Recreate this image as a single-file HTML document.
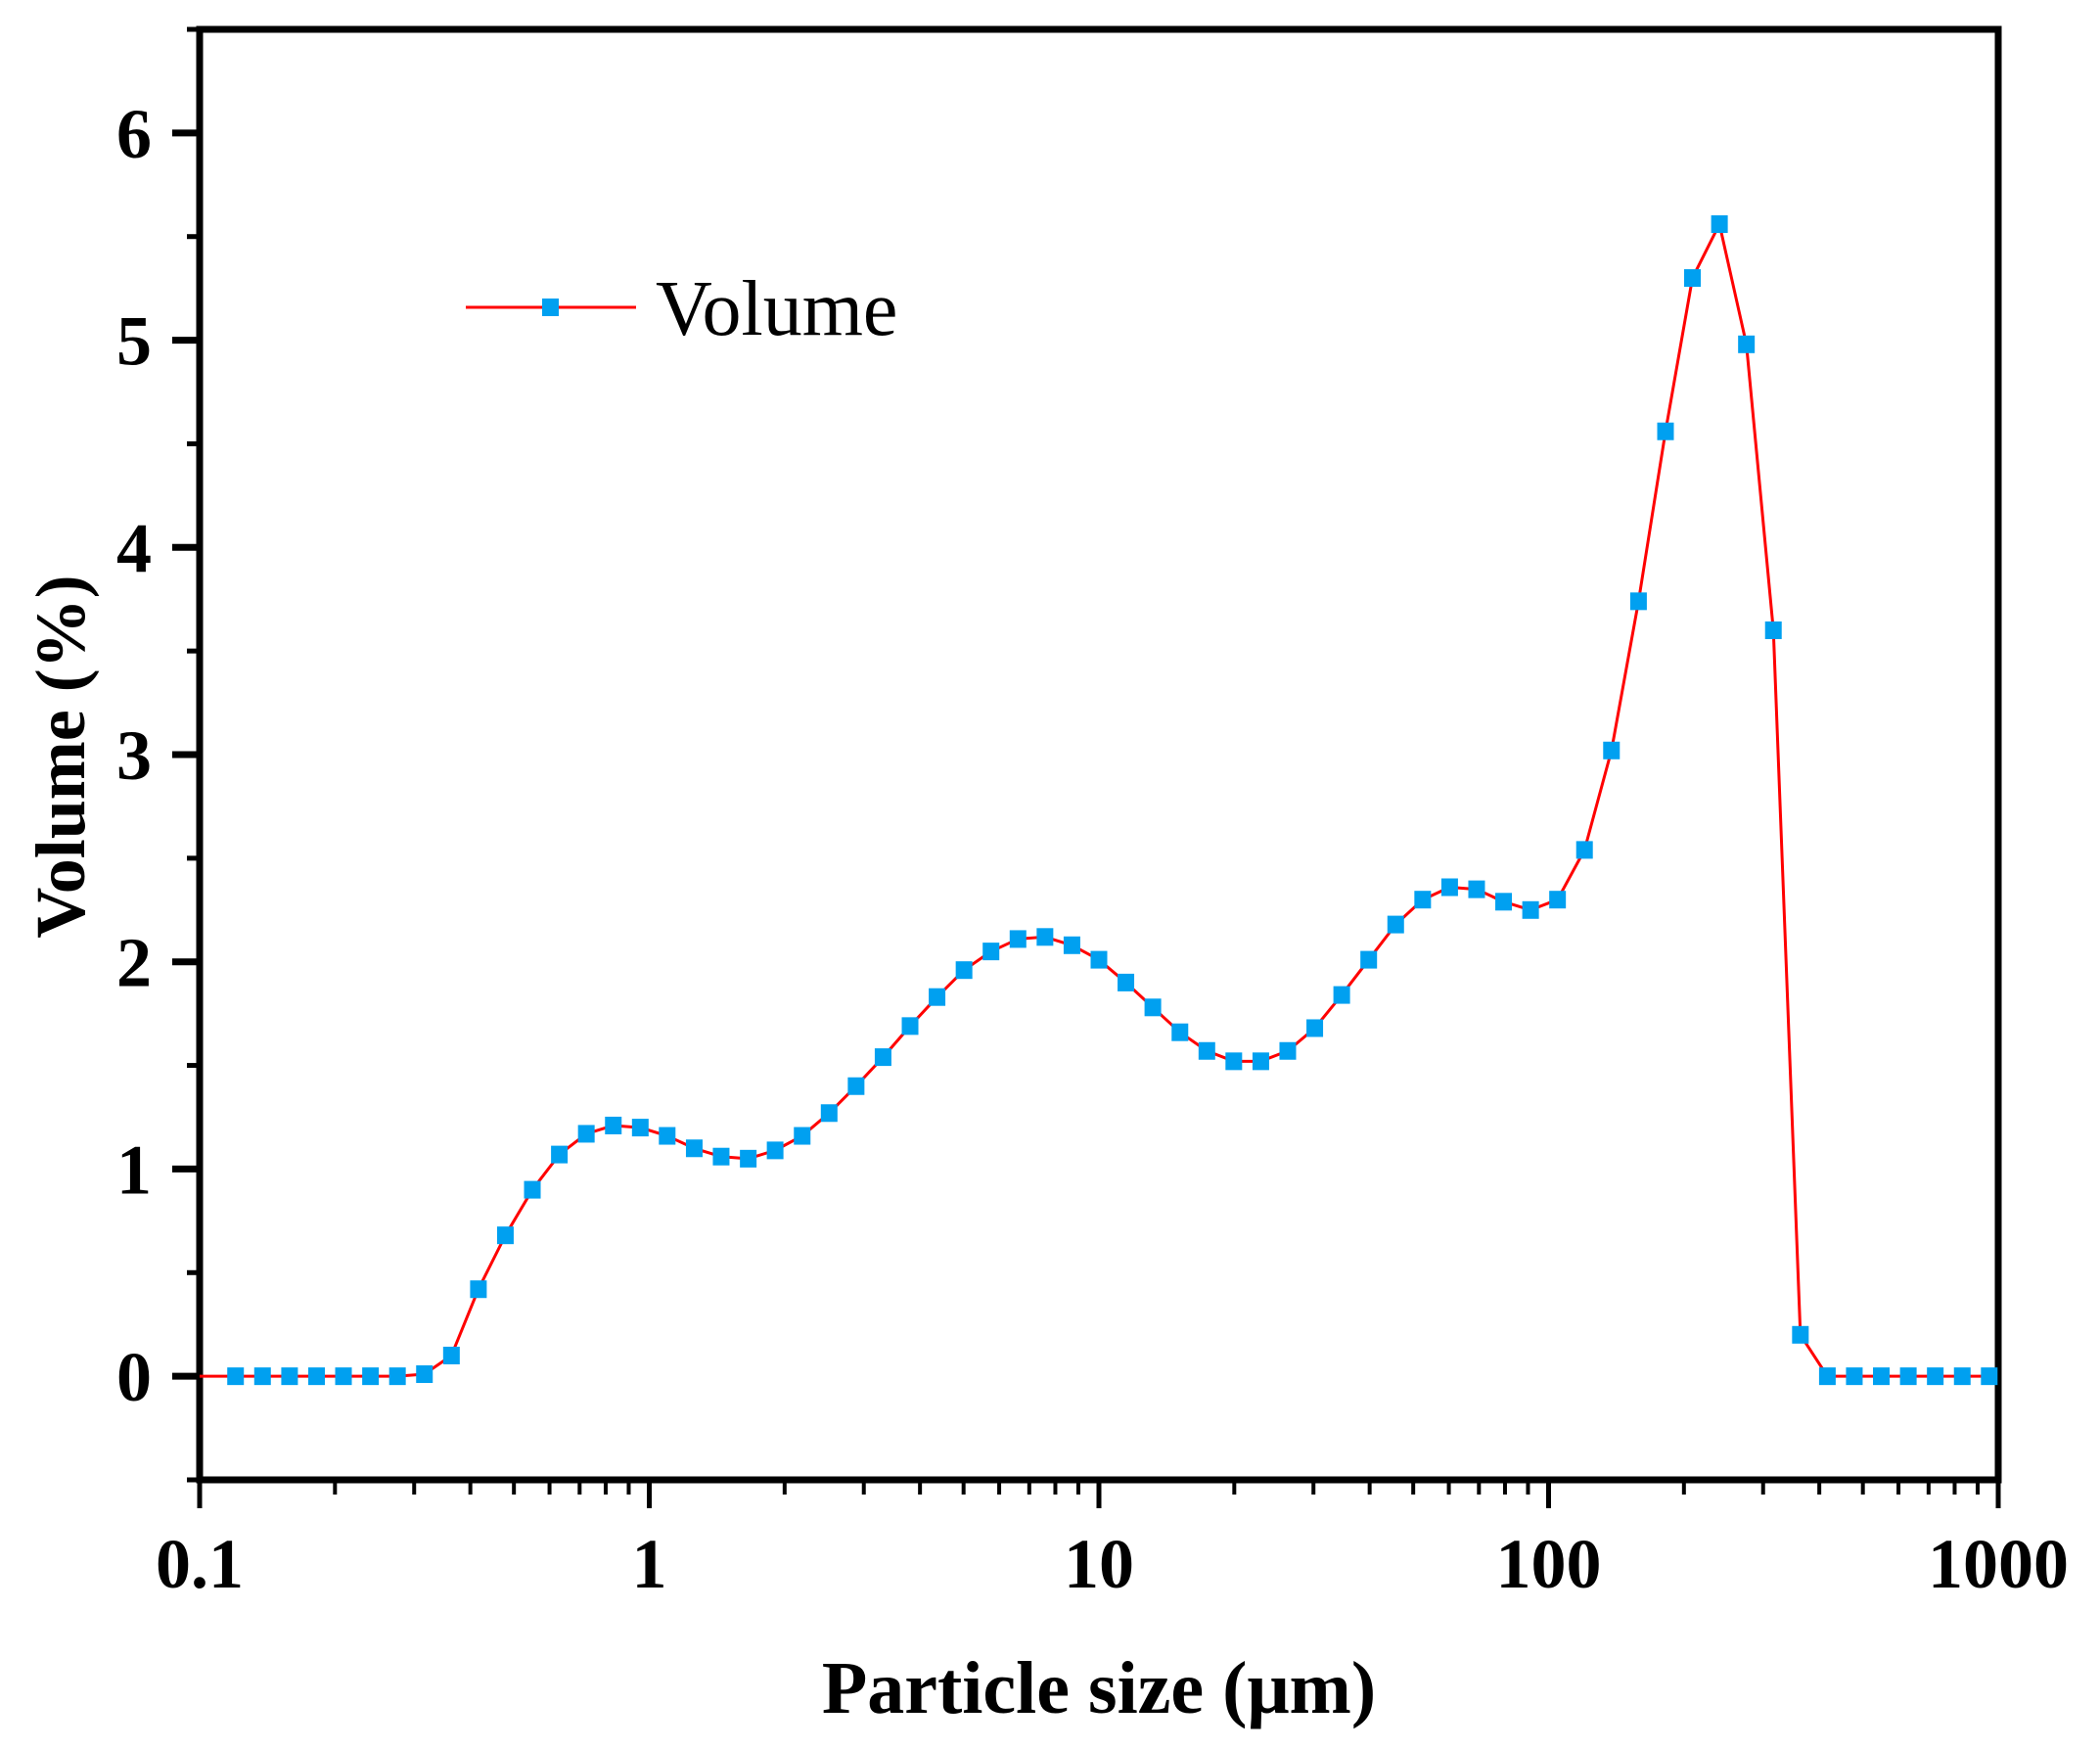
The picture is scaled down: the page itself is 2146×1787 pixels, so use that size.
<!DOCTYPE html>
<html><head><meta charset="utf-8"><style>
html,body{margin:0;padding:0;background:#fff}
svg{display:block;font-family:"Liberation Serif",serif}
</style></head><body>
<svg id="chart" width="2146" height="1787" viewBox="0 0 2146 1787" xmlns="http://www.w3.org/2000/svg">
<g id="axes"></g>
<g id="series"></g>
<g id="legend">
  <line x1="476" y1="314" x2="650" y2="314" stroke="#ff0000" stroke-width="3"/>
  <rect x="554" y="305" width="17" height="18" fill="#00a0f0"/>
  <text x="670" y="342" font-size="80">Volume</text>
</g>
<text x="1123" y="1750" font-size="76" font-weight="bold" text-anchor="middle">Particle size (μm)</text>
<text transform="translate(86,773) rotate(-90)" font-size="72" font-weight="bold" text-anchor="middle">Volume (%)</text>
</svg>
<script>
const sizes = [0.1202,0.138,0.1585,0.182,0.2089,0.2399,0.2754,0.3162,0.3631,0.4169,0.4786,0.5495,0.631,0.7244,0.8318,0.955,1.096,1.259,1.445,1.66,1.905,2.188,2.512,2.884,3.311,3.802,4.365,5.012,5.754,6.607,7.586,8.71,10,11.48,13.18,15.14,17.38,19.95,22.91,26.3,30.2,34.67,39.81,45.71,52.48,60.26,69.18,79.43,91.2,104.7,120.2,138,158.5,182,208.9,239.9,275.4,316.2,363.1,416.9,478.6,549.5,631,724.4,831.8,955];
const volumes = [0,0,0,0,0,0,0,0.01,0.1,0.42,0.68,0.90,1.07,1.17,1.21,1.20,1.16,1.10,1.06,1.05,1.09,1.16,1.27,1.40,1.54,1.69,1.83,1.96,2.05,2.11,2.12,2.08,2.01,1.90,1.78,1.66,1.57,1.52,1.52,1.57,1.68,1.84,2.01,2.18,2.30,2.36,2.35,2.29,2.25,2.30,2.54,3.02,3.74,4.56,5.30,5.56,4.98,3.60,0.20,0,0,0,0,0,0,0];
const xTickLabels = ["0.1","1","10","100","1000"];
const xTickValues = [0.1,1,10,100,1000];
const yTickLabels = ["0","1","2","3","4","5","6"];
const yTickValues = [0,1,2,3,4,5,6];

const X0=204, X1=2042, Y0=1512, Y1=30, xmin=0.1, xmax=1000, ymin=-0.5, ymax=6.5;
const xs = v => X0 + (Math.log10(v)-Math.log10(xmin))/(Math.log10(xmax)-Math.log10(xmin))*(X1-X0);
const ys = v => Y0 - (v-ymin)/(ymax-ymin)*(Y0-Y1);
const NS="http://www.w3.org/2000/svg";
const axes=document.getElementById('axes'), series=document.getElementById('series');
function mk(tag,attrs,parent){const e=document.createElementNS(NS,tag);for(const k in attrs)e.setAttribute(k,attrs[k]);parent.appendChild(e);return e;}

let f=mk('rect',{x:X0,y:Y1,width:X1-X0,height:Y0-Y1,fill:'none',stroke:'#000','stroke-width':7},axes);



for(let d=-1; d<3; d++){
  for(let m=2;m<=9;m++){
    const x=xs(m*Math.pow(10,d));
    const t=mk('line',{x1:x,y1:Y0,x2:x,y2:1527,stroke:'#000','stroke-width':4},axes);
    
    
  }
}
xTickValues.forEach((v,i)=>{
  const x=xs(v);
  const t=mk('line',{x1:x,y1:Y0,x2:x,y2:1541,stroke:'#000','stroke-width':5},axes);
  
  
  const l=mk('text',{x:x,y:1622,'font-size':72,'font-weight':'bold','text-anchor':'middle'},axes);
  l.textContent=xTickLabels[i];
  
  
});
for(let v=-0.5; v<6.6; v+=1){
  const y=ys(v);
  const t=mk('line',{x1:191,y1:y,x2:X0,y2:y,stroke:'#000','stroke-width':5},axes);
  
  
}
yTickValues.forEach((v,i)=>{
  const y=ys(v);
  const t=mk('line',{x1:176,y1:y,x2:X0,y2:y,stroke:'#000','stroke-width':7},axes);
  
  
  const l=mk('text',{x:155,y:y+25,'font-size':72,'font-weight':'bold','text-anchor':'end'},axes);
  l.textContent=yTickLabels[i];
  
  
});

let pts=[[xs(xmin),ys(0)]].concat(sizes.map((s,i)=>[xs(s),ys(volumes[i])]));
const pl=mk('polyline',{points:pts.map(p=>p.join(',')).join(' '),fill:'none',stroke:'#ff0000','stroke-width':3,'stroke-linejoin':'round'},series);


sizes.forEach((s,i)=>{
  const r=mk('rect',{x:xs(s)-8.5,y:ys(volumes[i])-9,width:17,height:18,fill:'#00a0f0'},series);
  
  
});
</script>
</body></html>
